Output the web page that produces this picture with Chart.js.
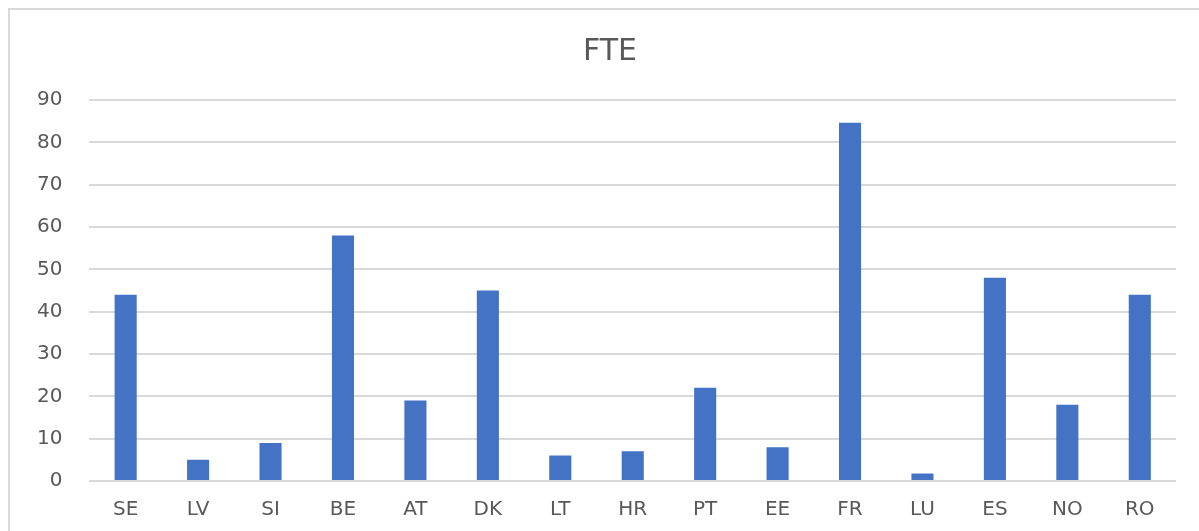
<!DOCTYPE html>
<html>
<head>
<meta charset="utf-8">
<script src="https://cdn.jsdelivr.net/npm/chart.js@4"></script>
<style>
  html, body { margin: 0; padding: 0; background: #fff; overflow: hidden; }
  #frame {
    position: absolute; left: 8px; top: 8px;
    width: 1300px; height: 600px;
    border: 2px solid #d9d9d9;
  }
  #wrap { position: absolute; left: 0; top: 0; width: 1199px; height: 531px; }
</style>
</head>
<body>
<div id="frame"></div>
<div id="wrap"><canvas id="fte-chart"></canvas></div>
<script>
const countries = ['SE', 'LV', 'SI', 'BE', 'AT', 'DK', 'LT', 'HR', 'PT', 'EE', 'FR', 'LU', 'ES', 'NO', 'RO'];
const fteValues = [44, 5, 9, 58, 19, 45, 6, 7, 22, 8, 84.6, 1.8, 48, 18, 44];
const yTicks = [0, 10, 20, 30, 40, 50, 60, 70, 80, 90];

document.addEventListener("DOMContentLoaded", () => {
    const ctx = document.getElementById('fte-chart');
    const grey = '#595959';

    new Chart(ctx, {
        type: 'bar',
        data: {
            labels: countries,
            datasets: [{
                label: 'FTE',
                data: fteValues,
                backgroundColor: '#4472C4',
                borderWidth: 0,
                barPercentage: 0.305,
                categoryPercentage: 1
            }]
        },
        options: {
            responsive: true,
            maintainAspectRatio: false,
            animation: false,
            layout: {
                padding: { left: 10, right: -11, top: 0, bottom: -8 }
            },
            plugins: {
                legend: { display: false },
                tooltip: { enabled: false },
                title: {
                    display: true,
                    text: 'FTE',
                    color: grey,
                    font: { family: 'DejaVu Sans', size: 30, weight: 'normal' },
                    padding: { top: 34, bottom: 30 }
                }
            },
            scales: {
                x: {
                    grid: { display: false, drawTicks: false },
                    border: { display: false },
                    ticks: {
                        color: grey,
                        padding: 17,
                        font: { family: 'DejaVu Sans', size: 20 }
                    }
                },
                y: {
                    min: yTicks[0],
                    max: yTicks[yTicks.length - 1],
                    afterBuildTicks: axis => {
                        axis.ticks = yTicks.map(v => ({ value: v }));
                    },
                    grid: {
                        color: '#d9d9d9',
                        lineWidth: 2,
                        drawTicks: false
                    },
                    border: { display: false },
                    ticks: {
                        color: grey,
                        padding: 27,
                        font: { family: 'DejaVu Sans', size: 20 }
                    }
                },
                // empty spacer on the right so the title sits where the original has it
                spacer: {
                    type: 'linear',
                    position: 'right',
                    grid: { display: false, drawTicks: false },
                    border: { display: false },
                    ticks: { display: false },
                    afterFit: axis => { axis.width = 34; }
                }
            }
        }
    });
});
</script>
</body>
</html>
